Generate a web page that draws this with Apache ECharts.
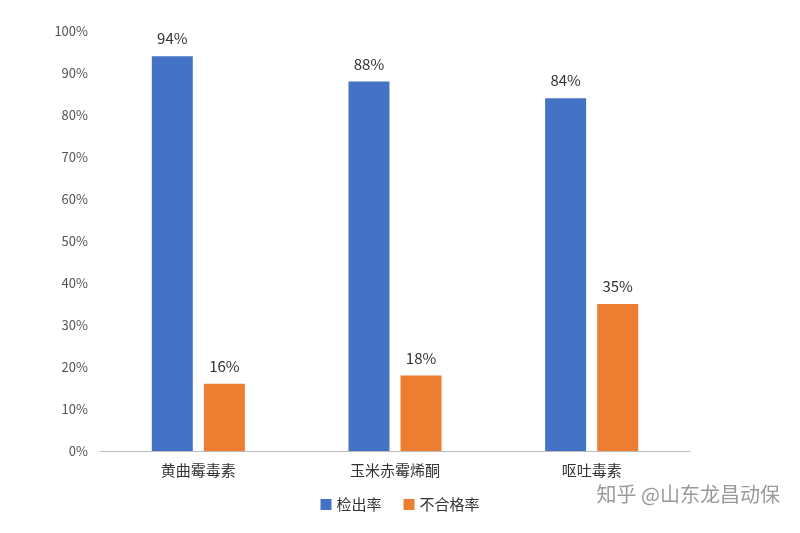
<!DOCTYPE html><html><head><meta charset="utf-8">
<script src="https://cdn.jsdelivr.net/npm/echarts@6/dist/echarts.min.js"></script>
<style>html,body{margin:0;background:#fff}#c{width:800px;height:533px}</style></head><body><div id="c"></div>
<script>
const categories=['黄曲霉毒素','玉米赤霉烯酮','呕吐毒素'];
const detectRate=[94,88,84];
const failRate=[16,18,35];
const seriesNames=['检出率','不合格率'];
const ch=echarts.init(document.getElementById('c'));
const font='"Noto Sans CJK SC", sans-serif';
ch.setOption({
 animation:false,
 textStyle:{fontFamily:font},
 grid:{left:100,right:110,top:31,bottom:82},
 legend:{bottom:16,left:'center',itemWidth:11,itemHeight:11,icon:'rect',itemGap:22,textStyle:{fontSize:15,color:'#333',fontFamily:font}},
 xAxis:{type:'category',data:categories,axisTick:{show:false},axisLine:{lineStyle:{color:'#bbb'}},axisLabel:{fontSize:15,color:'#333',margin:12,fontFamily:font}},
 yAxis:{type:'value',min:0,max:100,interval:10,splitLine:{show:false},axisLabel:{formatter:'{value}%',fontSize:13,color:'#555',margin:12}},
 series:[
  {name:seriesNames[0],type:'bar',data:detectRate,barWidth:41,barGap:'27%',itemStyle:{color:'#4472C4'},label:{show:true,position:'top',formatter:'{c}%',fontSize:15,color:'#333',distance:10}},
  {name:seriesNames[1],type:'bar',data:failRate,barWidth:41,itemStyle:{color:'#ED7D31'},label:{show:true,position:'top',formatter:'{c}%',fontSize:15,color:'#333',distance:10}}
 ],
 graphic:[{type:'text',right:20,top:484,style:{text:'知乎 @山东龙昌动保',fontSize:20,fill:'#999',fontFamily:font}}]
});
</script></body></html>
